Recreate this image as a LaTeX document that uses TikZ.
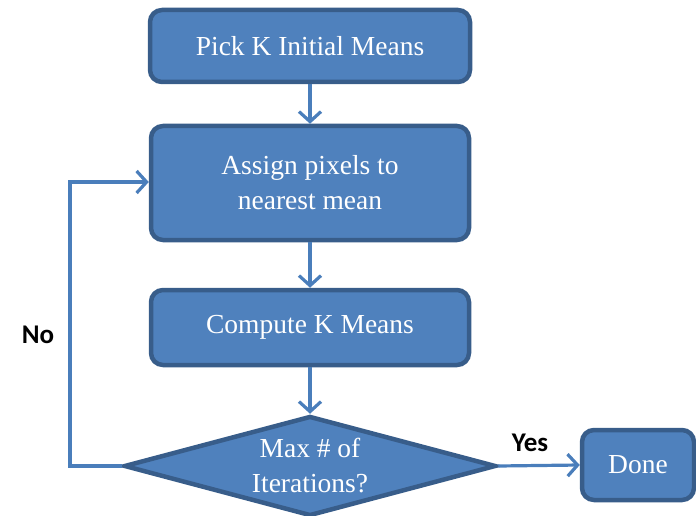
\documentclass[tikz,border=0pt]{standalone}
\usepackage{fontspec}
\setmainfont{Liberation Serif}
\newfontfamily\calib{Carlito}
\usetikzlibrary{shapes.geometric,arrows.meta}
\definecolor{boxfill}{HTML}{4F81BD}
\definecolor{boxline}{HTML}{385D8A}
\definecolor{arrowc}{HTML}{4A7EBB}
\tikzset{
  procbox/.style={draw=boxline, fill=boxfill, line width=4.5pt, rounded corners=12pt, text=white, font=\fontsize{27.5}{35}\selectfont, align=center, inner sep=0pt},
  decis/.style={draw=boxline, fill=boxfill, line width=4.5pt, diamond, aspect=3.72, text=white, font=\fontsize{27.5}{35}\selectfont, align=center, inner sep=0pt, minimum width=372pt, minimum height=100pt},
  conn/.style={draw=arrowc, line width=3.2pt, -{Straight Barb[length=10pt,width=22pt,line width=3.2pt]}},
  lbl/.style={font=\calib\bfseries\fontsize{27}{30}\selectfont, text=black}
}
\begin{document}
\begin{tikzpicture}[x=1pt,y=-1pt]
\useasboundingbox (0,0) rectangle (696,516);
\node[procbox, minimum width=320pt, minimum height=72pt] (n1) at (310,46) {Pick K Initial Means};
\node[procbox, minimum width=318pt, minimum height=114pt] (n2) at (310,183) {Assign pixels to\\nearest mean};
\node[procbox, minimum width=318pt, minimum height=75pt] (n3) at (310,327.5) {Compute K Means};
\node[decis] (d) at (310,466) {Max \# of\\Iterations?};
\node[procbox, minimum width=112pt, minimum height=70pt] (done) at (638,465) {Done};
\coordinate (c1) at (70,466);
\coordinate (c2) at (70,182);
\draw[conn] (n1.south) -- (n2.north);
\draw[conn] (n2.south) -- (n3.north);
\draw[conn] (n3.south) -- (d.north);
\draw[conn] (d.east) -- (done.west);
\draw[conn] (d.west) -- (c1) -- (c2) -- (n2.west |- c2);
\node[lbl] (no) at (38,335) {No};
\node[lbl] (yes) at (530,443) {Yes};
\end{tikzpicture}
\end{document}
